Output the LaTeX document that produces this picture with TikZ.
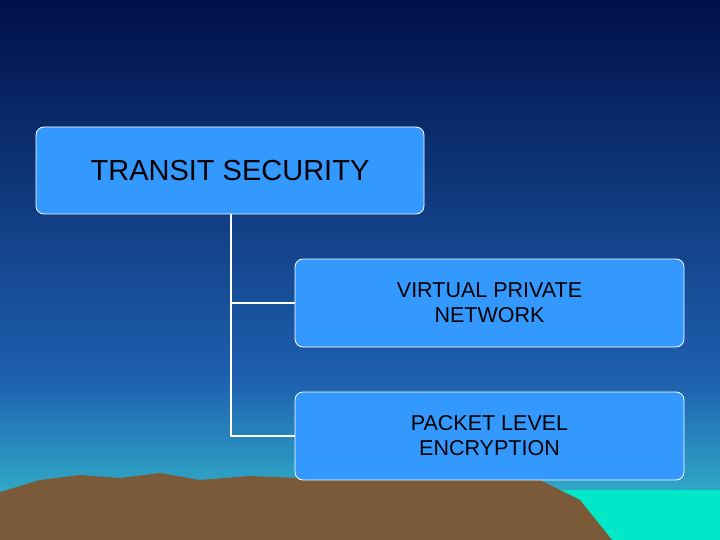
\documentclass[tikz,border=0pt]{standalone}
\usepackage{fontspec}
\setmainfont{Liberation Sans}
\definecolor{navy}{HTML}{001048}
\definecolor{midblue}{HTML}{1E60B0}
\definecolor{lowcyan}{HTML}{38C8D0}
\definecolor{boxblue}{HTML}{3399FF}
\definecolor{mount}{HTML}{7A5A38}
\definecolor{water}{HTML}{00E8C8}
\tikzset{
  box/.style={draw=white, line width=0.8pt, fill=boxblue, rounded corners=8pt, text=black, align=center, inner sep=0pt},
  link/.style={draw=white, line width=2.5pt}
}
\begin{document}
\begin{tikzpicture}[x=1pt,y=-1pt]
\useasboundingbox (0,0) rectangle (720,540);
\shade[top color=navy, bottom color=midblue] (0,0) rectangle (720,380);
\shade[top color=midblue, bottom color=lowcyan] (0,380) rectangle (720,540);
\fill[water] (500,490) rectangle (720,540);
\fill[mount] (0,540) -- (0,492) -- (40,480) -- (80,475) -- (120,478) -- (160,473) -- (200,480) -- (250,476) -- (300,478) -- (350,472) -- (400,476) -- (450,478) -- (500,474) -- (540,480) -- (580,500) -- (612,540) -- cycle;
\node[box, minimum width=388, minimum height=87, font=\fontsize{29}{34}\selectfont] (ts) at (230,170.5) {TRANSIT SECURITY};
\node[box, minimum width=389, minimum height=88, font=\fontsize{21.5}{25}\selectfont] (vpn) at (489.5,303) {VIRTUAL PRIVATE\\NETWORK};
\node[box, minimum width=389, minimum height=88, font=\fontsize{21.5}{25}\selectfont] (pkt) at (489.5,436) {PACKET LEVEL\\ENCRYPTION};
\coordinate (j1) at (231,303);
\coordinate (j2) at (231,436);
\draw[link] (ts.south -| j1) -- (j2) -- (pkt.west);
\draw[link] (j1) -- (vpn.west);
\end{tikzpicture}
\end{document}
